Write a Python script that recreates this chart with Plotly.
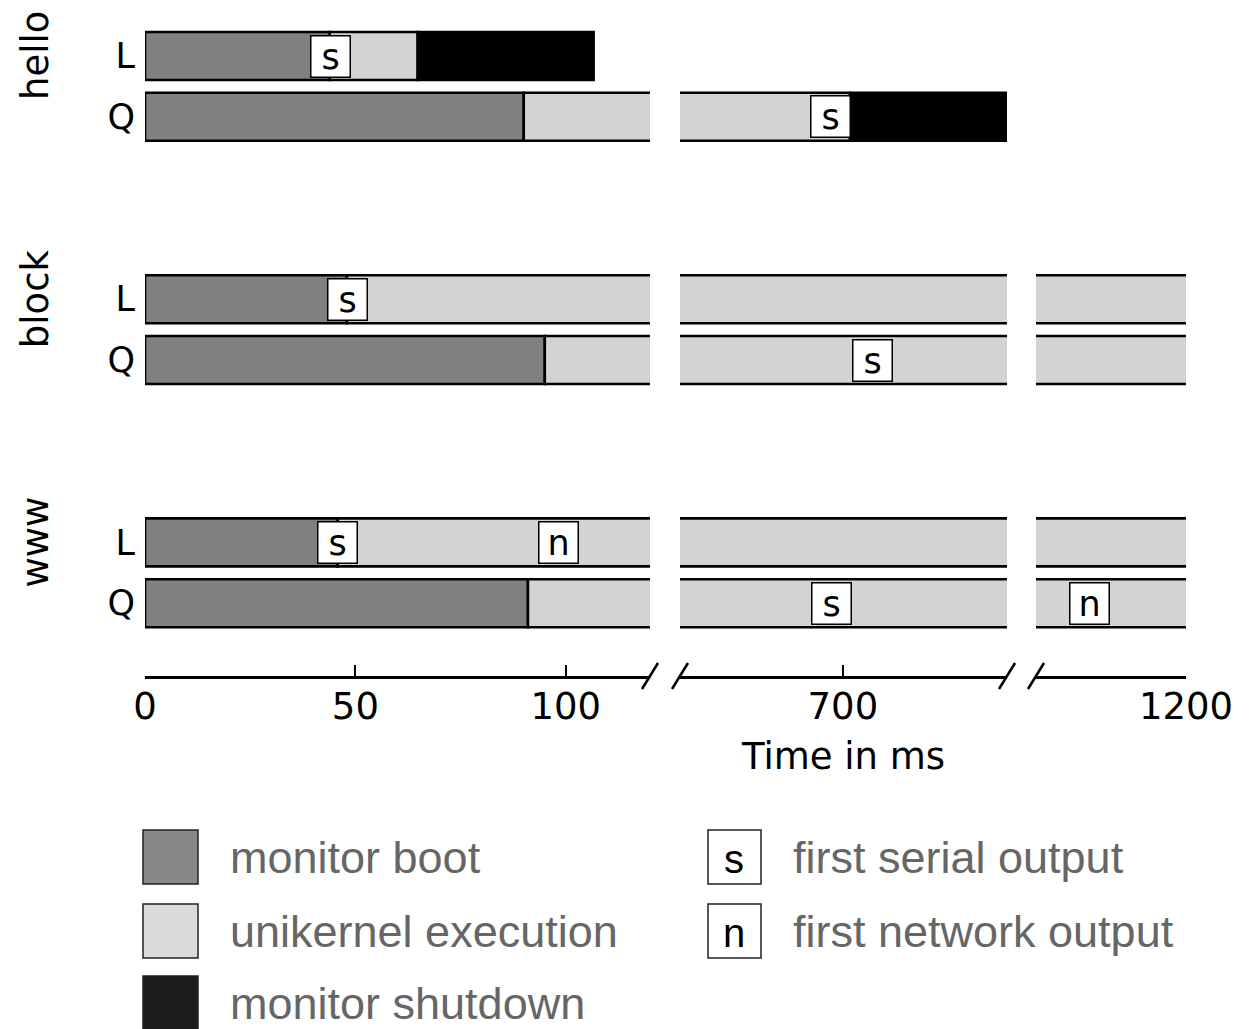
import plotly.graph_objects as go

# ---------------- data ----------------
groups = ["hello", "block", "www"]
monitors = ["L", "Q"]
# rows in order: hello-L, hello-Q, block-L, block-Q, www-L, www-Q
boot_end = [43.9, 90.0, 48.0, 95.0, 45.8, 91.0]
exec_end = [64.8, 701.7, 1215, 1215, 1215, 1215]
shutdown_end = [106.6, 739.0, None, None, None, None]
serial_out = [44.0, 697.0, 48.0, 707.0, 45.7, 697.2]
network_out = [None, None, None, None, 98.3, 1177.0]

seg_ranges = [[0, 120], [661.3, 739.0], [1164.4, 1200]]
seg_ticks = [[0, 50, 100], [700], [1200]]

phase_names = ["monitor boot", "unikernel execution", "monitor shutdown"]
phase_colors = ["#808080", "#d3d3d3", "#000000"]
legend_fill = ["#888888", "#dadada", "#1c1c1c"]

# ---------------- layout constants ----------------
W, H = 1253, 1029
OFF = 8  # page body margin
FW, FH = W - OFF, H - OFF
seg_px = [(145, 650), (680, 1007), (1036, 1186)]
plot_bottom_px = 676
row_pitch = 4  # group spacing in row units
bar_w = 0.79

def px_x(p):
    return (p - OFF) / FW

def px_y(p):
    return 1 - (p - OFF) / FH

row_pos = [g * row_pitch + m for g in range(len(groups)) for m in range(len(monitors))]
row_labels = [m for g in groups for m in monitors]

unit = 60.8
y_top = -(56 - OFF) / unit
y_bot = (plot_bottom_px - 56) / unit

fig = go.Figure()

axis_ids = ["x", "x2", "x3"]
for si, ax in enumerate(axis_ids):
    for ph in range(3):
        bases, lens, ys = [], [], []
        for r in range(len(row_pos)):
            if ph == 0:
                s, e = 0, boot_end[r]
            elif ph == 1:
                s, e = boot_end[r], exec_end[r]
            else:
                if shutdown_end[r] is None:
                    continue
                s, e = exec_end[r], shutdown_end[r]
            bases.append(s)
            lens.append(e - s)
            ys.append(row_pos[r])
        fig.add_trace(go.Bar(
            x=lens, y=ys, base=bases, orientation="h", width=bar_w,
            marker=dict(color=phase_colors[ph], line=dict(color="black", width=2.6)),
            xaxis=ax, yaxis="y", showlegend=False, hoverinfo="skip",
        ))

def seg_of(v):
    for i, (a, b) in enumerate(seg_ranges):
        if a <= v <= b:
            return i
    return None

annotations = []
for r in range(len(row_pos)):
    for val, txt in ((serial_out[r], "s"), (network_out[r], "n")):
        if val is None:
            continue
        si = seg_of(val)
        annotations.append(dict(
            x=val, y=row_pos[r], xref=axis_ids[si], yref="y", text=txt,
            showarrow=False, bgcolor="white", bordercolor="black", borderwidth=1.5,
            borderpad=0, width=38, height=40,
            font=dict(family="DejaVu Sans", size=35, color="black"),
        ))

# group labels (rotated), centred on the L row
for g, name in enumerate(groups):
    annotations.append(dict(
        x=px_x(35), y=row_pos[g * 2], xref="paper", yref="y", text=name,
        textangle=-90, showarrow=False, xanchor="center", yanchor="middle",
        font=dict(family="DejaVu Sans", size=37, color="black"),
    ))

# ---------------- legend (manual) ----------------
shapes = []
leg_rows = [857, 931, 1003]
for i, nm in enumerate(phase_names):
    cy = leg_rows[i]
    shapes.append(dict(type="rect", xref="paper", yref="paper",
                       x0=px_x(143), x1=px_x(198), y0=px_y(cy + 27), y1=px_y(cy - 27),
                       fillcolor=legend_fill[i], line=dict(color="#222222", width=1.5)))
    annotations.append(dict(x=px_x(228), y=px_y(cy), xref="paper", yref="paper",
                            text=nm, showarrow=False, xanchor="left", yanchor="middle",
                            font=dict(family="Liberation Sans", size=45, color="#666666")))

marker_leg = [("s", "first serial output"), ("n", "first network output")]
for i, (sym, nm) in enumerate(marker_leg):
    cy = leg_rows[i]
    shapes.append(dict(type="rect", xref="paper", yref="paper",
                       x0=px_x(708), x1=px_x(761), y0=px_y(cy + 27), y1=px_y(cy - 27),
                       fillcolor="white", line=dict(color="#222222", width=1.5)))
    annotations.append(dict(x=px_x(734.5), y=px_y(cy + 2), xref="paper", yref="paper",
                            text=sym, showarrow=False, xanchor="center", yanchor="middle",
                            font=dict(family="Liberation Sans", size=40, color="black")))
    annotations.append(dict(x=px_x(791), y=px_y(cy), xref="paper", yref="paper",
                            text=nm, showarrow=False, xanchor="left", yanchor="middle",
                            font=dict(family="Liberation Sans", size=45, color="#666666")))

# axis break slashes
for xp in (650, 680, 1007, 1036):
    shapes.append(dict(type="line", xref="paper", yref="paper",
                       xsizemode="pixel", ysizemode="pixel",
                       xanchor=px_x(xp), yanchor=px_y(plot_bottom_px),
                       x0=-8, x1=8, y0=-13, y1=13,
                       line=dict(color="black", width=2.5)))

layout_axes = {}
for si, ax in enumerate(axis_ids):
    key = "xaxis" if si == 0 else f"xaxis{si + 1}"
    a0, a1 = seg_px[si]
    layout_axes[key] = dict(
        domain=[px_x(a0), px_x(a1)], range=seg_ranges[si], anchor="y",
        tickvals=seg_ticks[si], ticktext=[str(t) for t in seg_ticks[si]],
        ticks="inside", ticklen=11, tickwidth=1.5, tickcolor="black",
        showline=True, linewidth=2.5, linecolor="black",
        showgrid=False, zeroline=False, automargin=False, ticklabelstandoff=-4,
        tickfont=dict(family="DejaVu Sans", size=37, color="black"),
    )
layout_axes["xaxis2"]["title"] = dict(text="Time in ms", standoff=16,
                                      font=dict(family="DejaVu Sans", size=37, color="black"))

fig.update_layout(
    template="none",
    width=FW, height=FH,
    margin=dict(l=0, r=0, t=0, b=0, pad=0),
    paper_bgcolor="white", plot_bgcolor="white",
    barmode="overlay",
    yaxis=dict(domain=[px_y(plot_bottom_px), 1], range=[y_bot, y_top],
               tickvals=row_pos, ticktext=row_labels, ticks="", ticklabelstandoff=9,
               showgrid=False, zeroline=False, showline=False, automargin=False,
               tickfont=dict(family="DejaVu Sans", size=35, color="black")),
    annotations=annotations,
    shapes=shapes,
    showlegend=False,
    **layout_axes,
)

fig.write_html("out.html")
